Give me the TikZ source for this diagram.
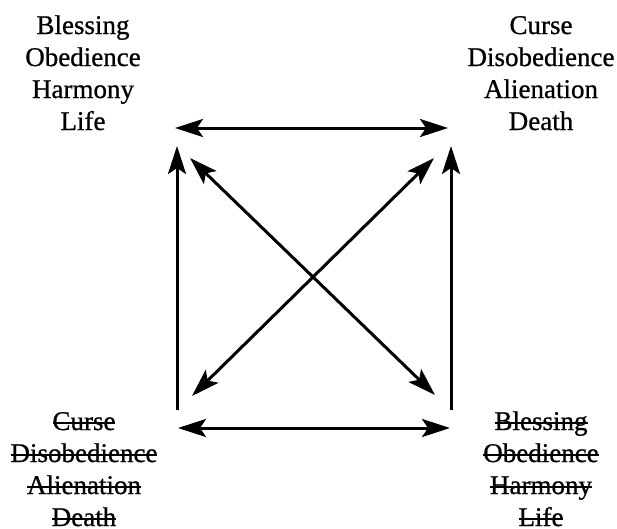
\documentclass[tikz,border=0pt]{standalone}
\usepackage{fontspec}
\setmainfont{Liberation Serif}
\newfontfamily\heavy{Liberation Serif}[FakeBold=0.8]
\usetikzlibrary{arrows.meta}
\newsavebox\strkbox
\newcommand\strk[1]{\sbox\strkbox{#1}\rlap{\usebox\strkbox}\rule[0.24em]{\wd\strkbox}{1.8pt}}
\tikzset{
  lbl/.style={align=center,inner sep=0pt,font=\heavy\fontsize{27}{32}\selectfont},
  tip/.tip={Stealth[length=28pt,width=18pt,inset=6pt]},
  arr/.style={line width=3pt,-tip},
  darr/.style={line width=3pt,tip-tip}
}
\begin{document}
\begin{tikzpicture}[x=1pt,y=-1pt]
\useasboundingbox (0,0) rectangle (617,528);
\node[lbl,anchor=base] (tl) at (83,130) {Blessing\\Obedience\\Harmony\\Life};
\node[lbl,anchor=base] (tr) at (541,130) {Curse\\Disobedience\\Alienation\\Death};
\node[lbl,anchor=base] (bl) at (84,526) {\strk{Curse}\\\strk{Disobedience}\\\strk{Alienation}\\\strk{Death}};
\node[lbl,anchor=base] (br) at (541,526) {\strk{Blessing}\\\strk{Obedience}\\\strk{Harmony}\\\strk{Life}};
\coordinate (th1) at (175,128);
\coordinate (th2) at (448,128);
\coordinate (bh1) at (178,428);
\coordinate (bh2) at (450,428);
\coordinate (lv1) at (177,410);
\coordinate (lv2) at (177,146);
\coordinate (rv1) at (451,410);
\coordinate (rv2) at (451,146);
\coordinate (d1a) at (190,158);
\coordinate (d1b) at (435,395);
\coordinate (d2a) at (434,158);
\coordinate (d2b) at (192,396);
\draw[darr] (th1) -- (th2);
\draw[darr] (bh1) -- (bh2);
\draw[arr] (lv1) -- (lv2);
\draw[arr] (rv1) -- (rv2);
\draw[darr] (d1a) -- (d1b);
\draw[darr] (d2a) -- (d2b);
\end{tikzpicture}
\end{document}
